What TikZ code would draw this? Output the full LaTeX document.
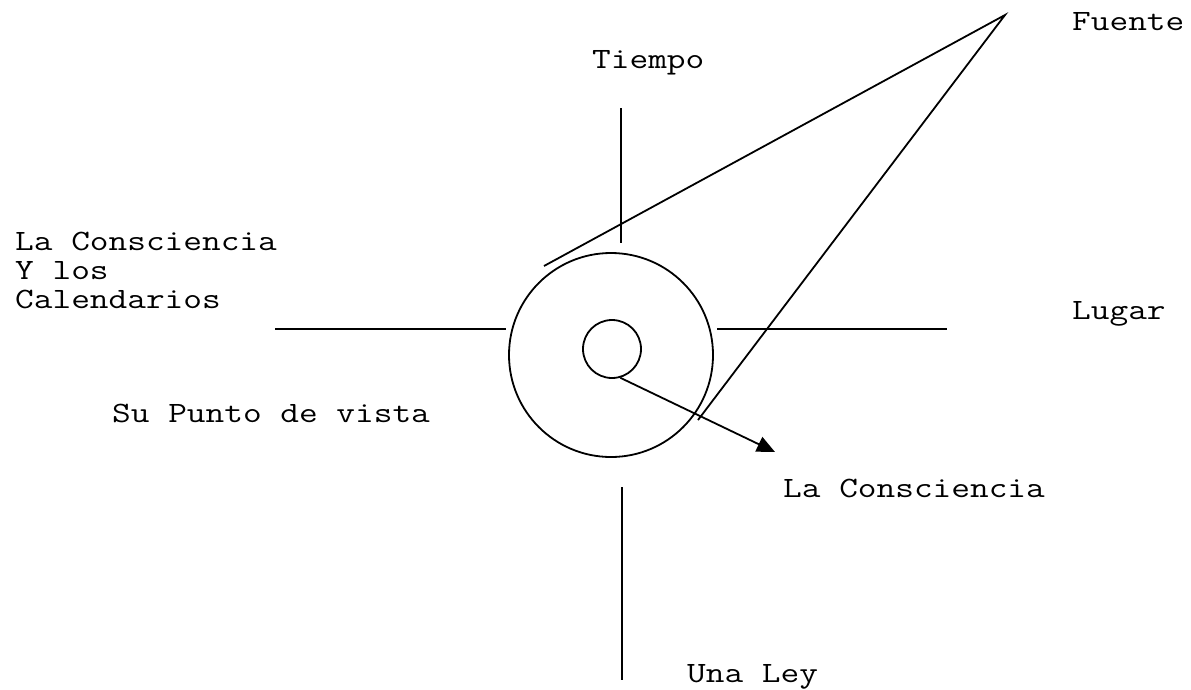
\documentclass[tikz,border=0pt]{standalone}
\usepackage{fontspec}
\setmonofont{Latin Modern Mono}[FakeStretch=1.23]
\usetikzlibrary{arrows.meta}
\tikzstyle{txt} = [inner sep=0pt, anchor=base west, align=left,
font=\fontsize{29.5}{29}\selectfont\ttfamily]
\tikzstyle{stroke} = [line width=1.8pt]
\tikzstyle{ring} = [circle, draw, line width=1.8pt, inner sep=0pt]
\tikzstyle{arrow} = [line width=1.8pt, -{Triangle[length=18pt,width=16pt]}]

\begin{document}
\begin{tikzpicture}[x=1pt, y=-1pt]
            \useasboundingbox (0,0) rectangle (1191,689);
            % Circles
            \node[ring, minimum size=204pt] (outer) at (611,355) {};
            \node[ring, minimum size=58pt] (inner) at (612,349) {};
            % Labels
            \node[txt] (tiempo) at (592,68) {Tiempo};
            \node[txt] (fuente) at (1072,30) {Fuente};
            \node[txt] (calendarios) at (15,308) {La Consciencia\\Y los\\Calendarios};
            \node[txt] (lugar) at (1072,319) {Lugar};
            \node[txt] (punto) at (112,422) {Su Punto de vista};
            \node[txt] (consciencia) at (783,497) {La Consciencia};
            \node[txt] (ley) at (687,682) {Una Ley};
            % Axis ends
            \coordinate (top1) at (621,108);
            \coordinate (top2) at (621,243);
            \coordinate (bot1) at (622,487);
            \coordinate (bot2) at (622,680);
            \coordinate (left1) at (275,329);
            \coordinate (left2) at (506,329);
            \coordinate (right1) at (717,329);
            \coordinate (right2) at (947,329);
            \coordinate (apex) at (1005,15);
            \coordinate (apexa) at (544,266);
            \coordinate (apexb) at (698,420);
            \coordinate (tip) at (775,452);
            % Lines
            \draw[stroke] (top1) -- (top2);
            \draw[stroke] (bot1) -- (bot2);
            \draw[stroke] (left1) -- (left2);
            \draw[stroke] (right1) -- (right2);
            \draw[stroke] (apexa) -- (apex) -- (apexb);
            % Arrow
            \draw[arrow] (inner.-74) -- (tip);
        \end{tikzpicture}
\end{document}
